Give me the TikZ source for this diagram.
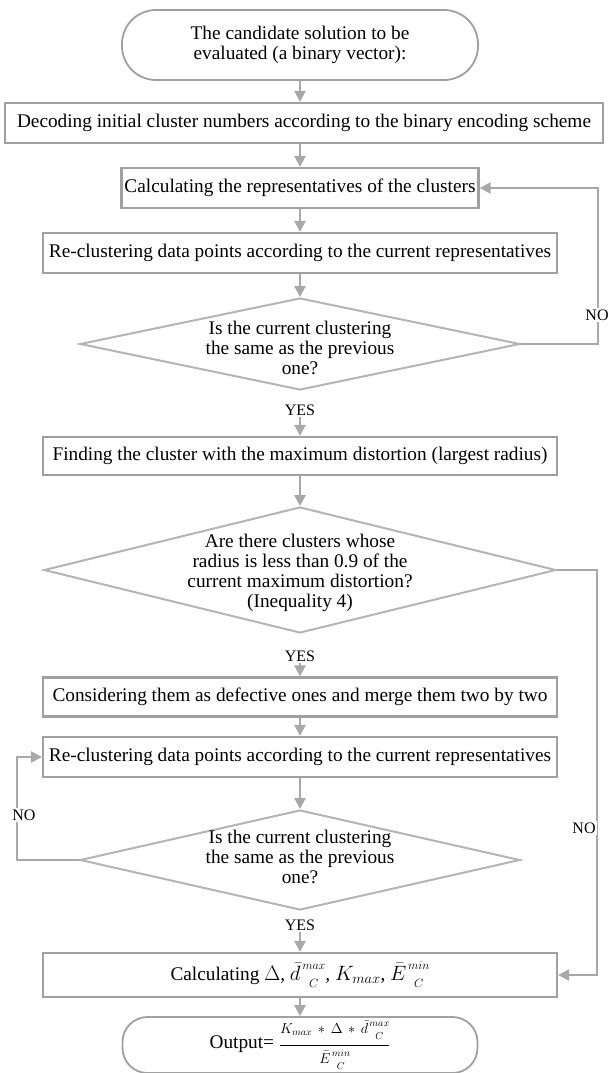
\documentclass[tikz,border=0pt]{standalone}
\usepackage{amsmath}
\usepackage{fontspec}
\setmainfont{Liberation Serif}
\usetikzlibrary{shapes.geometric,arrows.meta}
\definecolor{lnc}{RGB}{168,168,168}
\definecolor{bxc}{RGB}{160,160,160}
\definecolor{dmc}{RGB}{180,180,180}
\newcommand\mySS[2]{\mskip1.5mu\vcenter{\hbox{\fontsize{13}{18}\selectfont\begin{tabular}{@{}c@{}}$#1$\\$#2$\end{tabular}}}}
\newcommand\mySSs[2]{\mskip1.5mu\vcenter{\hbox{\fontsize{10}{13}\selectfont\begin{tabular}{@{}c@{}}$#1$\\$#2$\end{tabular}}}}
\begin{document}
\begin{tikzpicture}[x=1pt,y=-1pt,
  font=\fontsize{19.3}{20}\selectfont,
  procbox/.style={draw=bxc, line width=2.2pt, fill=white, minimum width=514, minimum height=40, inner sep=0pt, align=center},
  term/.style={draw=bxc, line width=1.8pt, fill=white, inner sep=0pt, align=center},
  dia/.style={diamond, draw=dmc, line width=2pt, inner sep=0pt},
  dtext/.style={align=center, inner sep=0pt, font=\fontsize{19.3}{19.8}\selectfont},
  lbl/.style={fill=white, inner sep=1.5pt, font=\fontsize{16}{17}\selectfont},
  arr/.style={draw=lnc, line width=2.5pt, -{Triangle[width=11pt,length=11pt]}}
]
\useasboundingbox (0,0) rectangle (610,1073);

% nodes
\node[term, rounded corners=34pt, minimum width=356, minimum height=70] (start) at (300,45)
  {The candidate solution to be\\evaluated (a binary vector):};
\node[procbox, minimum width=598] (b1) at (304,123)
  {Decoding initial cluster numbers according to the binary encoding scheme};
\node[procbox, minimum width=357] (b2) at (300,188)
  {Calculating the representatives of the clusters};
\node[procbox] (b3) at (300,253)
  {Re-clustering data points according to the current representatives};
\node[dia, minimum width=440, minimum height=92] (d1) at (300,344) {};
\node[dtext] (d1t) at (300,348) {Is the current clustering\\the same as the previous\\one?};
\node[lbl] (yes1) at (300,410) {YES};
\node[procbox, minimum height=38] (b4) at (300,456)
  {Finding the cluster with the maximum distortion (largest radius)};
\node[dia, minimum width=512, minimum height=126] (d2) at (300,570) {};
\node[dtext] (d2t) at (300,573) {Are there clusters whose\\radius is less than 0.9 of the\\current maximum distortion?\\(Inequality 4)};
\node[lbl] (yes2) at (300,656) {YES};
\node[procbox, minimum height=39] (b5) at (300,697)
  {Considering them as defective ones and merge them two by two};
\node[procbox] (b6) at (300,757)
  {Re-clustering data points according to the current representatives};
\node[dia, minimum width=440, minimum height=100] (d3) at (300,860) {};
\node[dtext] (d3t) at (300,857) {Is the current clustering\\the same as the previous\\one?};
\node[lbl] (yes3) at (300,925) {YES};
\node[procbox, minimum height=44] (b7) at (300,975)
  {Calculating $\Delta$, $\bar{d}\mySS{max}{C}$, $K_{max}$, $\bar{E}\mySS{min}{C}$};
\node[term, rounded corners=25pt, minimum width=355, minimum height=50] (out) at (300,1045)
  {Output= {\fontsize{14.5}{16}\selectfont$\dfrac{K_{max}\,\ast\,\Delta\,\ast\,\bar{d}\mySSs{max}{C}}{\bar{E}\mySSs{min}{C}}$}};

% straight connectors
\draw[arr] (start.south) -- (start.south |- b1.north);
\draw[arr] (b1.south -| b2.north) -- (b2.north);
\draw[arr] (b2) -- (b3);
\draw[arr] (b3) -- (d1);
\draw[arr] (yes1) -- (b4);
\draw[arr] (b4) -- (d2);
\draw[arr] (yes2) -- (b5);
\draw[arr] (b5) -- (b6);
\draw[arr] (b6) -- (d3);
\draw[arr] (yes3) -- (b7);
\draw[arr] (b7) -- (out);

% loops
\coordinate (rx1) at (598,0);
\coordinate (rx2) at (597,0);
\coordinate (lx) at (17,0);
\draw[arr] (d1.east) -- (d1.east -| rx1) -- (b2.east -| rx1) -- (b2.east);
\draw[arr] (d2.east) -- (d2.east -| rx2) -- (b7.east -| rx2) -- (b7.east);
\draw[arr] (d3.west) -- (d3.west -| lx) -- (b6.west -| lx) -- (b6.west);
\node[lbl] (no1) at (597,315) {NO};
\node[lbl] (no2) at (584,828) {NO};
\node[lbl] (no3) at (24,815) {NO};
\end{tikzpicture}
\end{document}
